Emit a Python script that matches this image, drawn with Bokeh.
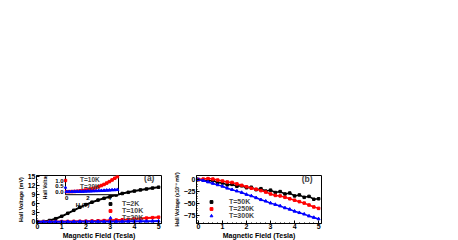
import math
from bokeh.plotting import figure
from bokeh.models import Range1d, Legend, LegendItem, SingleIntervalTicker, Label
from bokeh.layouts import row
from bokeh.core.properties import value
from bokeh.embed import file_html
from bokeh.resources import INLINE

# ---------------- data: panel (a) ----------------
field_a = [0.0, 0.25, 0.5, 0.75, 1.0, 1.25, 1.5, 1.75, 2.0, 2.25, 2.5,
           2.75, 3.0, 3.25, 3.5, 3.75, 4.0, 4.25, 4.5, 4.75, 5.0]
hall_2K = [0.0, 0.05, 0.4, 1.0, 1.8, 2.8, 3.8, 4.8, 5.7, 6.5, 7.2,
           7.8, 8.4, 8.9, 9.4, 9.8, 10.2, 10.6, 10.9, 11.2, 11.5]
hall_10K = [0.0, 0.0, 0.01, 0.02, 0.04, 0.06, 0.1, 0.14, 0.18, 0.24, 0.3,
            0.37, 0.45, 0.55, 0.65, 0.77, 0.9, 1.05, 1.2, 1.35, 1.5]
hall_20K = [0.0, 0.0, 0.0, 0.01, 0.01, 0.02, 0.02, 0.03, 0.04, 0.05, 0.06,
            0.07, 0.08, 0.09, 0.1, 0.12, 0.13, 0.15, 0.16, 0.18, 0.2]
labels_a = ["T=2K", "T=10K", "T=20K"]
inset_labels = ["T=10K", "T=20K"]
inset_yticks = [0.0, 0.5, 1.0]
inset_ytick_labels = ["0.0", "0.5", "1.0"]
inset_xticks = [0, 2, 4]
inset_xtick_labels = ["0", "2", "4"]

# ---------------- data: panel (b) ----------------
field_b = [0.0, 0.2, 0.4, 0.6, 0.8, 1.0, 1.2, 1.4, 1.6, 1.8, 2.0, 2.2, 2.4,
           2.6, 2.8, 3.0, 3.2, 3.4, 3.6, 3.8, 4.0, 4.2, 4.4, 4.6, 4.8, 5.0]
hall_50K = [0, -1, -3, -2, -6, -7, -11, -10, -14, -13, -17, -16, -21,
            -19, -24, -22, -27, -25, -30, -28, -34, -32, -37, -35, -41, -40]
hall_250K = [0, 1, 2, 1, -1, -3, -5, -6, -9, -12, -15, -18, -20,
             -23, -26, -30, -33, -34, -37, -40, -43, -46, -49, -53, -57, -60]
hall_300K = [0, -2, -5, -8, -11, -14, -18, -21, -24, -27, -31, -34, -38,
             -42, -45, -49, -52, -55, -59, -62, -66, -69, -72, -76, -79, -82]
labels_b = ["T=50K", "T=250K", "T=300K"]

FONT = "Liberation Sans"


def style(p, yinterval, yminor):
    p.outline_line_color = "black"
    p.outline_line_width = 1
    p.xgrid.visible = False
    p.ygrid.visible = False
    p.background_fill_color = "white"
    p.xaxis[0].ticker = SingleIntervalTicker(interval=1, num_minor_ticks=5)
    p.yaxis[0].ticker = SingleIntervalTicker(interval=yinterval, num_minor_ticks=yminor)
    for ax in (p.xaxis[0], p.yaxis[0]):
        ax.major_tick_in = 3
        ax.major_tick_out = 0
        ax.minor_tick_in = 1
        ax.minor_tick_out = 0
        ax.axis_line_color = "black"
        ax.major_label_text_font = FONT
        ax.major_label_text_font_style = "bold"
        ax.major_label_text_font_size = "7px"
        ax.major_label_text_color = "black"
        ax.axis_label_text_font = FONT
        ax.axis_label_text_font_style = "bold"
        ax.axis_label_text_color = "black"
        ax.major_label_standoff = 1
        ax.axis_label_standoff = 1
    p.xaxis[0].major_label_standoff = 0
    p.xaxis[0].axis_label_standoff = 0
    p.xaxis[0].axis_label_text_font_size = "7px"
    p.yaxis[0].axis_label_text_font_size = "5.5px"


def extra_range(f0, f1, v0, v1):
    s = (v1 - v0) / (f1 - f0)
    return Range1d(v0 - f0 * s, v0 + (1 - f0) * s)


# ---------------- panel (a) ----------------
pa = figure(frame_width=125, frame_height=48,
            x_range=Range1d(-0.04, 5.12), y_range=Range1d(-0.6, 15.4),
            min_border_left=36, min_border_right=2, min_border_top=175,
            min_border_bottom=0,
            output_backend="svg", toolbar_location=None)
style(pa, 3, 3)
pa.xaxis[0].axis_label = "Magnetic Field (Tesla)"
pa.yaxis[0].axis_label = "Hall Voltage (mV)"

pa.line(field_a, hall_2K, color="black", line_width=2)
r2 = pa.scatter(field_a, hall_2K, marker="square", size=2.5, color="black")
pa.line(field_a, hall_10K, color="red", line_width=2)
r10 = pa.scatter(field_a, hall_10K, marker="square", size=2.5, color="red")
pa.line(field_a, hall_20K, color="blue", line_width=2)
r20 = pa.scatter(field_a, hall_20K, marker="triangle", size=3, color="blue")

# inset placed inside frame of panel (a)
xi0, xi1, yi0, yi1 = -0.1, 4.85, -0.27, 1.45
pa.extra_x_ranges = {"ix": extra_range(0.232, 0.656, xi0, xi1)}
pa.extra_y_ranges = {"iy": extra_range(0.60, 1.0, yi0, yi1)}
pa.quad(left=[xi0], right=[xi1], bottom=[yi0], top=[yi1],
        x_range_name="ix", y_range_name="iy",
        fill_color="white", line_color="black", line_width=1)
n_in = 20
pa.line(field_a[:n_in], hall_10K[:n_in], color="red", line_width=2,
        x_range_name="ix", y_range_name="iy")
ri10 = pa.scatter(field_a[:n_in], hall_10K[:n_in], marker="square", size=2.5,
                  color="red", x_range_name="ix", y_range_name="iy")
pa.line(field_a[:n_in], hall_20K[:n_in], color="blue", line_width=2,
        x_range_name="ix", y_range_name="iy")
ri20 = pa.scatter(field_a[:n_in], hall_20K[:n_in], marker="triangle", size=3,
                  color="blue", x_range_name="ix", y_range_name="iy")
pa.text(x=[xi0] * len(inset_yticks), y=inset_yticks, text=inset_ytick_labels,
        x_range_name="ix", y_range_name="iy", x_offset=-2,
        text_align="right", text_baseline="middle",
        text_font=value(FONT), text_font_style="bold", text_font_size="6px")
pa.text(x=inset_xticks, y=[yi0] * len(inset_xticks), text=inset_xtick_labels,
        x_range_name="ix", y_range_name="iy", y_offset=1,
        text_align="center", text_baseline="top",
        text_font=value(FONT), text_font_style="bold", text_font_size="6px")
pa.text(x=[1.5], y=[yi0], text=["H (T)"], x_range_name="ix", y_range_name="iy",
        y_offset=7, text_align="center", text_baseline="top",
        text_font=value(FONT), text_font_style="bold", text_font_size="6px")
pa.text(x=[xi0], y=[(yi0 + yi1) / 2], text=["Hall Voltage"],
        x_range_name="ix", y_range_name="iy", x_offset=-21, angle=math.pi / 2,
        text_align="center", text_baseline="middle",
        text_font=value(FONT), text_font_style="bold", text_font_size="5px")

leg_in = Legend(items=[LegendItem(label=inset_labels[0], renderers=[ri10]),
                       LegendItem(label=inset_labels[1], renderers=[ri20])],
                location=(26, 33), glyph_width=6, glyph_height=6, label_height=6,
                spacing=0, padding=0, margin=0, label_standoff=12,
                background_fill_alpha=0, border_line_alpha=0,
                label_text_font=FONT, label_text_font_style="bold",
                label_text_font_size="6.5px")
pa.add_layout(leg_in, "center")

leg_a = Legend(items=[LegendItem(label=labels_a[0], renderers=[r2]),
                      LegendItem(label=labels_a[1], renderers=[r10]),
                      LegendItem(label=labels_a[2], renderers=[r20])],
               location=(70, 2), glyph_width=8, glyph_height=7, label_height=7,
               spacing=0, padding=0, margin=0, label_standoff=8,
               background_fill_alpha=0, border_line_alpha=0,
               label_text_font=FONT, label_text_font_style="bold",
               label_text_font_size="7px")
pa.add_layout(leg_a, "center")

pa.add_layout(Label(x=4.4, y=14.5, text="(a)", text_font=FONT,
                    text_font_style="bold", text_font_size="8.5px",
                    text_baseline="middle"))

# ---------------- panel (b) ----------------
pb = figure(frame_width=125, frame_height=48,
            x_range=Range1d(-0.08, 5.12), y_range=Range1d(-91.5, 8.5),
            min_border_left=33, min_border_right=4, min_border_top=175,
            min_border_bottom=0,
            output_backend="svg", toolbar_location=None)
style(pb, 25, 5)
pb.xaxis[0].axis_label = "Magnetic Field (Tesla)"
pb.yaxis[0].axis_label = "Hall Voltage (x10\u207b\u00b3 mV)"
pb.yaxis[0].axis_label_text_font_size = "5px"

colors_b = ["black", "red", "blue"]
pale_b = ["#c8c8c8", "#ffb4b4", "#b4e6b4"]
markers_b = ["square", "square", "triangle"]
items_b = []
for ys, c, pc, m, lab in zip([hall_50K, hall_250K, hall_300K], colors_b, pale_b,
                             markers_b, labels_b):
    pb.line(field_b, ys, color=c, line_width=1.5)
    rs = pb.scatter(field_b, ys, marker=m, size=2.5 if m == "square" else 3, color=c)
    rl = pb.line(x=[], y=[], color=pc, line_width=1)
    items_b.append(LegendItem(label=lab, renderers=[rl, rs]))

leg_b = Legend(items=items_b, location=(1, 4), glyph_width=28, glyph_height=7,
               label_height=7, spacing=0, padding=0, margin=0, label_standoff=4,
               background_fill_alpha=0, border_line_alpha=0,
               label_text_font=FONT, label_text_font_style="bold",
               label_text_font_size="7px")
pb.add_layout(leg_b, "center")
pb.add_layout(Label(x=4.3, y=1.0, text="(b)", text_font=FONT,
                    text_font_style="bold", text_font_size="8.5px",
                    text_baseline="middle"))

layout = row(pa, pb)
open("out.html", "w").write(file_html(layout, INLINE))
